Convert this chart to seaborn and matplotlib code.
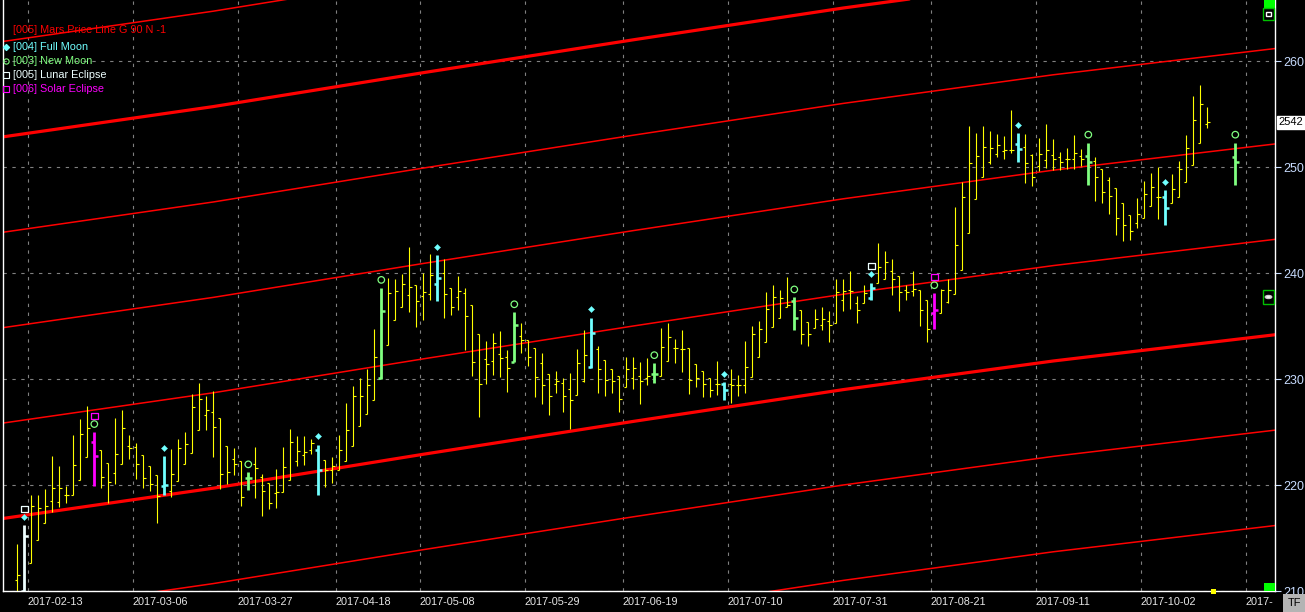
import numpy as np
import pandas as pd
import matplotlib
matplotlib.use('Agg')
import matplotlib.pyplot as plt
from matplotlib.patches import Rectangle, Circle
import seaborn as sns

nan = np.nan

# daily OHLC, one value per bar (bar index 0..174)
opens = [211.0, 210.0, 212.6, 214.8, 216.4, 218.5, 218.4, 219.1, 219.1, 220.5,
         222.6, 224.1, 223.3, 222.1, 221.1, 222.0, 223.7, 223.6, 222.8, 221.8,
         220.9, 219.9, 219.4, 220.4, 222.0, 223.0, 225.2, 226.6, 226.9, 226.3,
         223.7, 222.5, 222.3, 220.7, 222.0, 220.8, 220.2, 219.2, 219.3, 220.5,
         222.3, 222.8, 223.3, 223.3, 222.4, 221.4, 221.4, 222.3, 223.7, 225.6,
         226.7, 228.0, 230.1, 233.2, 235.6, 236.8, 237.9, 238.9, 237.8, 238.0,
         239.0, 240.0, 238.6, 237.7, 238.1, 237.0, 234.2, 231.9, 231.7, 232.4,
         232.1, 231.6, 234.1, 233.7, 232.9, 231.5, 230.5, 229.5, 229.6, 229.1,
         228.5, 229.8, 231.1, 232.8, 231.8, 230.9, 230.3, 229.2, 230.1, 230.3,
         230.1, 230.5, 230.3, 231.7, 232.9, 232.8, 232.9, 231.4, 230.8, 230.1,
         229.5, 229.5, 229.5, 229.4, 229.4, 230.2, 232.1, 233.5, 234.9, 235.8,
         236.8, 237.4, 236.5, 235.4, 234.8, 235.1, 235.5, 235.3, 237.5, 238.4,
         237.2, 237.2, 237.6, 239.1, 239.4, 240.2, 239.7, 238.4, 238.3, 238.4,
         237.5, 236.2, 236.2, 237.3, 238.0, 240.3, 243.8, 247.0, 249.1, 250.5,
         251.2, 251.5, 251.6, 252.2, 251.9, 251.1, 250.1, 250.7, 251.1, 250.9,
         250.8, 250.8, 251.0, 251.0, 250.6, 249.8, 248.8, 248.0, 246.6, 245.5,
         244.7, 245.2, 246.3, 247.2, 247.2, 246.6, 247.2, 248.6, 250.2, 252.3,
         254.1, nan, nan, nan, 250.9]
highs = [214.4, 216.2, 219.1, 219.1, 219.6, 222.7, 221.8, 219.9, 224.7, 226.2,
         227.5, 225.0, 223.3, 222.1, 226.3, 227.1, 224.7, 224.0, 222.8, 221.8,
         220.9, 222.7, 223.4, 224.3, 225.0, 228.6, 229.6, 228.4, 228.9, 226.3,
         223.7, 223.5, 222.3, 221.2, 223.6, 221.0, 220.2, 221.5, 223.6, 225.3,
         224.6, 224.6, 224.3, 223.8, 222.4, 222.6, 224.7, 227.7, 229.3, 230.1,
         230.9, 234.7, 238.6, 239.5, 239.4, 239.9, 242.5, 238.9, 240.0, 241.8,
         241.7, 241.3, 238.6, 239.7, 238.6, 237.0, 234.2, 233.6, 234.3, 234.5,
         232.7, 236.3, 235.3, 233.7, 232.9, 232.5, 230.5, 230.8, 230.1, 230.6,
         232.8, 234.6, 235.8, 233.1, 231.8, 230.9, 230.3, 232.1, 232.1, 231.6,
         232.0, 231.5, 234.8, 235.3, 233.8, 234.6, 232.9, 231.4, 230.8, 230.1,
         231.7, 229.7, 230.9, 230.4, 233.6, 235.0, 235.5, 238.2, 238.9, 238.4,
         239.6, 237.7, 236.5, 235.4, 236.6, 236.8, 236.4, 239.4, 239.4, 240.2,
         237.8, 238.9, 239.1, 242.8, 242.1, 241.3, 239.7, 238.9, 240.2, 238.4,
         237.5, 238.1, 238.5, 239.4, 246.2, 248.6, 253.9, 253.2, 253.9, 253.4,
         253.1, 252.9, 255.4, 253.2, 253.1, 251.2, 252.7, 254.1, 252.6, 251.4,
         251.8, 253.0, 251.7, 252.3, 250.9, 249.8, 249.1, 248.0, 246.6, 245.5,
         247.1, 248.7, 249.4, 250.0, 247.8, 249.3, 250.6, 253.0, 256.7, 257.7,
         255.7, nan, nan, nan, 252.3]
lows = [208.0, 208.0, 212.6, 214.8, 216.4, 217.5, 217.9, 218.3, 219.1, 220.5,
        222.6, 219.9, 219.7, 218.3, 220.1, 222.0, 222.5, 220.6, 219.7, 219.4,
        216.4, 219.1, 218.9, 220.4, 222.0, 223.0, 225.2, 225.2, 222.6, 219.6,
        220.1, 220.9, 218.0, 219.5, 218.8, 217.1, 217.7, 217.8, 219.3, 220.5,
        221.8, 221.9, 222.9, 219.1, 219.8, 220.2, 221.4, 222.3, 223.7, 225.6,
        226.7, 228.0, 230.0, 233.2, 235.6, 236.8, 236.3, 234.9, 235.6, 237.5,
        237.4, 235.8, 236.0, 236.5, 232.7, 230.3, 226.4, 229.5, 230.4, 230.2,
        228.8, 231.6, 232.5, 231.2, 228.3, 227.6, 226.6, 228.7, 226.9, 225.3,
        228.5, 229.7, 231.0, 228.7, 228.4, 228.7, 226.9, 229.2, 229.1, 227.6,
        229.4, 229.6, 230.3, 231.7, 231.5, 230.7, 228.6, 229.2, 228.3, 228.3,
        228.5, 228.0, 227.7, 228.4, 228.7, 230.2, 232.1, 233.5, 234.9, 235.8,
        236.8, 234.6, 233.3, 233.1, 234.8, 234.6, 233.5, 235.3, 236.4, 236.6,
        235.3, 237.2, 237.5, 239.1, 239.4, 237.9, 236.4, 237.5, 237.8, 235.0,
        233.5, 234.7, 236.2, 237.2, 238.0, 240.3, 243.8, 247.0, 249.1, 250.3,
        250.9, 250.8, 251.3, 250.5, 248.5, 248.2, 249.6, 249.9, 249.7, 249.7,
        249.8, 249.8, 250.1, 248.3, 246.8, 246.6, 245.6, 243.6, 243.0, 243.1,
        244.2, 245.2, 246.3, 245.1, 244.5, 246.6, 247.2, 248.6, 250.2, 252.3,
        253.7, nan, nan, nan, 248.3]
closes = [211.5, 215.2, 218.0, 217.8, 218.0, 219.7, 219.7, 219.1, 221.9, 224.8,
          225.4, 222.7, 220.8, 220.3, 222.9, 225.4, 223.5, 222.0, 220.7, 220.1,
          219.0, 220.0, 221.0, 223.5, 223.9, 227.4, 228.1, 227.1, 225.5, 221.0,
          221.2, 222.0, 218.9, 220.7, 221.6, 219.4, 218.3, 219.3, 221.7, 224.1,
          223.2, 223.1, 224.0, 221.4, 221.4, 221.8, 223.3, 225.2, 228.4, 228.4,
          229.4, 232.1, 236.4, 238.1, 238.3, 239.0, 238.7, 237.4, 238.2, 239.8,
          239.5, 238.0, 236.8, 238.3, 235.9, 231.6, 229.5, 231.4, 233.4, 232.0,
          231.0, 235.1, 233.7, 232.1, 230.2, 229.4, 228.4, 229.8, 228.4, 228.0,
          231.5, 232.3, 234.3, 230.9, 229.9, 229.8, 228.1, 230.9, 231.0, 229.8,
          230.3, 230.5, 233.0, 234.0, 232.9, 232.8, 229.9, 230.1, 229.5, 229.0,
          229.5, 229.0, 229.4, 229.4, 231.1, 234.2, 234.7, 236.6, 237.7, 237.6,
          237.0, 235.8, 234.2, 234.2, 235.7, 235.7, 235.1, 238.2, 238.3, 238.3,
          236.5, 238.1, 238.6, 240.6, 241.0, 239.4, 238.2, 238.2, 238.5, 236.5,
          234.7, 236.5, 238.4, 238.4, 242.6, 247.2, 250.4, 251.0, 251.9, 251.8,
          252.1, 251.6, 251.6, 251.7, 250.4, 249.1, 251.2, 251.6, 250.8, 250.5,
          250.8, 251.3, 250.8, 250.5, 249.1, 247.6, 247.3, 245.2, 244.5, 244.0,
          245.6, 247.5, 248.1, 247.2, 246.1, 247.9, 249.8, 251.8, 254.4, 255.9,
          254.2, nan, nan, nan, 250.5]

# bars carrying a lunar event
full_moon = [1, 21, 43, 60, 82, 101, 122, 143, 164]
new_moon = [11, 33, 52, 71, 91, 111, 131, 153, 174]
lunar_eclipse = [1, 122]
solar_eclipse = [11, 131]

tick_pos = [1.5, 16.5, 31.5, 45.5, 57.5, 72.5, 86.5, 101.5, 116.5, 130.5, 145.5, 160.5, 175.5]
tick_labels = ['2017-02-13', '2017-03-06', '2017-03-27', '2017-04-18', '2017-05-08',
               '2017-05-29', '2017-06-19', '2017-07-10', '2017-07-31', '2017-08-21',
               '2017-09-11', '2017-10-02', '2017-']
price_ticks = [210, 220, 230, 240, 250, 260]

# Mars price line (base line) read at a few bars, plus parallel steps
mars_bar = [-2.5, 28, 58, 88, 118, 148, 180]
mars_base = [216.8, 219.7, 222.9, 226.0, 229.0, 231.7, 234.2]
mars_steps = [-27, -18, -9, 0, 9, 18, 27, 36, 45]
thick_steps = [0, 36]
last_price = 254.2

W, H = 1305, 612
YELLOW, CYAN, GREEN, MAGENTA, WHITE = '#ffff00', '#70ffff', '#80ff80', '#ff00ff', '#eeffff'

sns.set_style('dark', {'axes.facecolor': 'black', 'figure.facecolor': 'black'})
plt.rcParams['font.family'] = ['Liberation Sans', 'DejaVu Sans']

df = pd.DataFrame({'open': opens, 'high': highs, 'low': lows, 'close': closes})
df['bar'] = np.arange(len(df))

def bar_color(i):
    if i in solar_eclipse:
        return MAGENTA
    if i == lunar_eclipse[0]:
        return WHITE
    if i in full_moon:
        return CYAN
    if i in new_moon:
        return GREEN
    return YELLOW

df['color'] = [bar_color(i) for i in df['bar']]
df['special'] = df['color'] != YELLOW

fig = plt.figure(figsize=(W / 100, H / 100), dpi=100, facecolor='black')
ax = fig.add_axes([3 / W, 21 / H, 1272 / W, 591 / H])
ax.set_facecolor('black')

# Mars price lines
rows = []
for s in mars_steps:
    for b, v in zip(mars_bar, mars_base):
        rows.append((b, v + s, s))
mars_df = pd.DataFrame(rows, columns=['bar', 'price', 'step'])
thin = mars_df[~mars_df['step'].isin(thick_steps)]
thick = mars_df[mars_df['step'].isin(thick_steps)]
sns.lineplot(data=thin, x='bar', y='price', units='step', estimator=None,
             color='#ff0000', linewidth=1.1, ax=ax, legend=False, zorder=1)
sns.lineplot(data=thick, x='bar', y='price', units='step', estimator=None,
             color='#ff0000', linewidth=2.3, ax=ax, legend=False, zorder=1)

# OHLC bars
norm = df[~df['special']].dropna()
spec = df[df['special']].dropna()
ax.vlines(norm['bar'], norm['low'], norm['high'], color=YELLOW, linewidth=0.8, zorder=2)
ax.hlines(norm['open'], norm['bar'] - 0.35, norm['bar'], color=YELLOW, linewidth=0.8, zorder=2)
ax.hlines(norm['close'], norm['bar'], norm['bar'] + 0.4, color=YELLOW, linewidth=0.8, zorder=2)
ax.vlines(spec['bar'], spec['low'], spec['high'], color=spec['color'], linewidth=2.0, zorder=3)
ax.hlines(spec['open'], spec['bar'] - 0.45, spec['bar'], color=spec['color'], linewidth=1.8, zorder=3)
ax.hlines(spec['close'], spec['bar'], spec['bar'] + 0.5, color=spec['color'], linewidth=1.8, zorder=3)

# lunar event markers above the bar high
fm = df.loc[full_moon]
nm = df.loc[new_moon]
sns.scatterplot(x=fm['bar'], y=fm['high'] + 0.8, marker='D', s=10, color=CYAN,
                edgecolor=CYAN, ax=ax, zorder=4)
sns.scatterplot(x=nm['bar'], y=nm['high'] + 0.75, marker='o', s=22, facecolor='none',
                edgecolor=GREEN, linewidth=0.9, ax=ax, zorder=4)
le = df.loc[lunar_eclipse]
se = df.loc[solar_eclipse]
sns.scatterplot(x=le['bar'], y=le['high'] + 1.55, marker='s', s=22, facecolor='none',
                edgecolor=WHITE, linewidth=0.9, ax=ax, zorder=4)
sns.scatterplot(x=se['bar'], y=se['high'] + 1.5, marker='s', s=22, facecolor='none',
                edgecolor=MAGENTA, linewidth=0.9, ax=ax, zorder=4)

ax.set_xlim((3 - 17.3) / 7, (1275 - 17.3) / 7)
ax.set_ylim(210, 210 + 591 / 10.6)
ax.set_xlabel('')
ax.set_ylabel('')

ax.set_xticks(tick_pos)
ax.set_xticklabels(tick_labels, ha='left', color='#e6e6e6', fontsize=7.8)
ax.tick_params(axis='x', length=0, pad=4)
ax.yaxis.tick_right()
ax.set_yticks(price_ticks)
ax.set_yticklabels([str(p) for p in price_ticks], color='#c8dcff', fontsize=9)
ax.tick_params(axis='y', length=4, width=0.8, color='#c8dcff', pad=2)
ax.grid(True, color='#808080', linestyle=(0, (3, 5)), linewidth=0.8)
ax.set_axisbelow(True)
for side in ['left', 'bottom', 'right']:
    ax.spines[side].set_color('white')
    ax.spines[side].set_linewidth(1.0)
    ax.spines[side].set_visible(True)
ax.spines['top'].set_visible(False)

# last price tag
ax.text(1.0025, last_price, '2542', transform=ax.get_yaxis_transform(), ha='left', va='center',
        fontsize=8, color='black', bbox=dict(facecolor='white', edgecolor='white', pad=1.2),
        clip_on=False)

# legend block
fig.text(13 / W, 1 - 30 / H, '[005] Mars Price Line G 90 N -1', color='#ff0000', fontsize=7.8, va='center')
legend_items = [('[004] Full Moon', CYAN, 'D', CYAN, 47),
                ('[003] New Moon', GREEN, 'o', 'none', 61),
                ('[005] Lunar Eclipse', WHITE, 's', 'none', 75),
                ('[006] Solar Eclipse', MAGENTA, 's', 'none', 89)]
for label, col, mk, fc, py in legend_items:
    fig.text(13 / W, 1 - py / H, label, color=col, fontsize=7.8, va='center')
    fig.add_artist(plt.Line2D([6 / W], [1 - py / H], marker=mk, markersize=3.2 if mk == 'D' else 3.8,
                              markerfacecolor=fc, markeredgecolor=col, markeredgewidth=0.8,
                              linestyle='none', transform=fig.transFigure))

# chart widgets on the right edge
def px_rect(x0, y0, x1, y1, **kw):
    fig.add_artist(Rectangle((x0 / W, 1 - y1 / H), (x1 - x0) / W, (y1 - y0) / H,
                             transform=fig.transFigure, **kw))

px_rect(1264, 0, 1275, 8, facecolor='#00ff00', edgecolor='none')
px_rect(1264, 583, 1275, 591, facecolor='#00ff00', edgecolor='none')
px_rect(1263, 8, 1274, 20, facecolor='black', edgecolor='#00c000', linewidth=1)
px_rect(1266, 12, 1271, 16, facecolor='none', edgecolor='white', linewidth=1)
px_rect(1263, 290, 1274, 304, facecolor='black', edgecolor='#00c000', linewidth=1)
fig.add_artist(Circle((1268.5 / W, 1 - 297 / H), 3.2 / W, transform=fig.transFigure,
                      facecolor='white', edgecolor='#cccccc'))
px_rect(1211, 589, 1216, 594, facecolor=YELLOW, edgecolor='none')
px_rect(1283, 594, 1305, 612, facecolor='#b4b4b4', edgecolor='none')
fig.text(1294 / W, 1 - 603 / H, 'TF', color='black', fontsize=8, ha='center', va='center')

plt.savefig('out.png', dpi=100, facecolor='black')
